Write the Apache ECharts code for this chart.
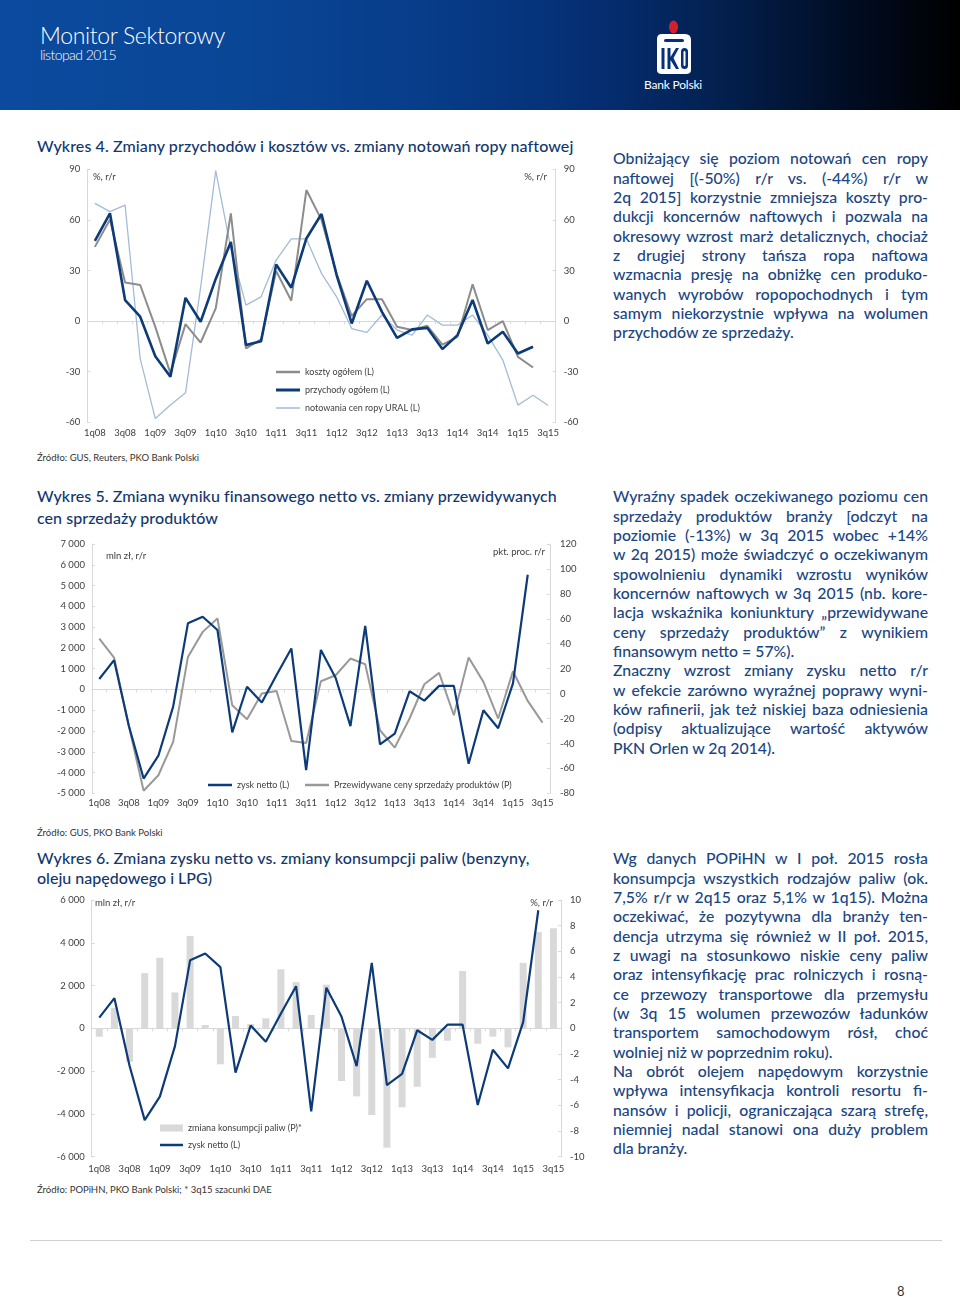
<!DOCTYPE html>
<html><head><meta charset="utf-8">
<script src="https://cdn.jsdelivr.net/npm/echarts@6/dist/echarts.min.js"></script>
<style>
html,body{margin:0;padding:0;background:#fff;}
body{width:960px;height:1297px;position:relative;overflow:hidden;font-family:Lato,"Open Sans",sans-serif;}
#hdr{position:absolute;left:0;top:0;width:960px;height:110px;background:linear-gradient(90deg,#0b4a9e 0%,#0a4696 25%,#073c89 45%,#052e72 62%,#03204f 75%,#010d24 88%,#000 100%);}
.t{position:absolute;white-space:nowrap;}
.ttl{color:#12376f;font-size:16px;line-height:20px;font-weight:500;}
.src{color:#333;font-size:9.5px;line-height:12px;}
.para{position:absolute;left:613px;width:315px;color:#1a4683;font-size:15.8px;font-weight:500;}
.ln{height:19.33px;line-height:19.33px;white-space:nowrap;}
.ln span{display:inline-block;white-space:nowrap;}
.ch{position:absolute;left:30px;width:570px;height:290px;}
</style></head><body>
<div id="hdr"></div>
<div class="t" id="h1" data-w="185" style="left:40px;top:21px;font-size:23px;line-height:28px;color:#fff;font-weight:300;">Monitor Sektorowy</div>
<div class="t" id="h2" data-w="76" style="left:40px;top:46px;font-size:14px;line-height:18px;color:#fff;font-weight:300;">listopad 2015</div>
<svg style="position:absolute;left:645px;top:15px;" width="60" height="80" viewBox="0 0 60 80">
 <ellipse cx="28.5" cy="12" rx="4.5" ry="6.5" fill="#d4202a"/>
 <path d="M12 24 Q12 19 17 19 L40 19 Q46 19 46 25 L46 55 Q46 59 41 59 L17 59 Q12 59 12 55 Z" fill="#fff"/>
 <rect x="19" y="24" width="20" height="3" rx="1.5" fill="#06317a"/>
 <rect x="16.5" y="33" width="3" height="21" fill="#06317a"/>
 <path d="M22.5 33 L25.5 33 L25.5 42 L31 33 L34 33 L28.5 43 L34 54 L31 54 L25.5 45 L25.5 54 L22.5 54 Z" fill="#06317a"/>
 <rect x="36" y="33" width="7" height="21" rx="3.5" fill="#06317a"/>
 <rect x="38.5" y="36" width="2" height="15" rx="1" fill="#fff"/>
</svg>
<div class="t" style="left:644px;top:78px;font-size:12px;line-height:14px;color:#fff;" id="bp" data-w="58">Bank Polski</div>

<div class="t ttl" data-w="536" style="left:37px;top:136px;">Wykres 4. Zmiany przychodów i kosztów vs. zmiany notowań ropy naftowej</div>
<div class="ch" id="c4" style="top:160px;"></div>
<div class="t src" style="left:37px;top:452px;">Źródło: GUS, Reuters, PKO Bank Polski</div>

<div class="t ttl" data-w="519" style="left:37px;top:486px;">Wykres 5. Zmiana wyniku finansowego netto vs. zmiany przewidywanych</div>
<div class="t ttl" data-w="181" style="left:37px;top:508px;">cen sprzedaży produktów</div>
<div class="ch" id="c5" style="top:530px;"></div>
<div class="t src" style="left:37px;top:827px;">Źródło: GUS, PKO Bank Polski</div>

<div class="t ttl" data-w="492" style="left:37px;top:848px;">Wykres 6. Zmiana zysku netto vs. zmiany konsumpcji paliw (benzyny,</div>
<div class="t ttl" data-w="175" style="left:37px;top:868px;">oleju napędowego i LPG)</div>
<div class="ch" id="c6" style="top:890px;"></div>
<div class="t src" style="left:37px;top:1184px;">Źródło: POPiHN, PKO Bank Polski; * 3q15 szacunki DAE</div>

<div class="para" style="top:148.3px;">
<div class="ln"><span>Obniżający się poziom notowań cen ropy</span></div>
<div class="ln"><span>naftowej [(-50%) r/r vs. (-44%) r/r w</span></div>
<div class="ln"><span>2q 2015] korzystnie zmniejsza koszty pro-</span></div>
<div class="ln"><span>dukcji koncernów naftowych i pozwala na</span></div>
<div class="ln"><span>okresowy wzrost marż detalicznych, chociaż</span></div>
<div class="ln"><span>z drugiej strony tańsza ropa naftowa</span></div>
<div class="ln"><span>wzmacnia presję na obniżkę cen produko-</span></div>
<div class="ln"><span>wanych wyrobów ropopochodnych i tym</span></div>
<div class="ln"><span>samym niekorzystnie wpływa na wolumen</span></div>
<div class="ln last"><span>przychodów ze sprzedaży.</span></div>
</div>

<div class="para" style="top:486.3px;">
<div class="ln"><span>Wyraźny spadek oczekiwanego poziomu cen</span></div>
<div class="ln"><span>sprzedaży produktów branży [odczyt na</span></div>
<div class="ln"><span>poziomie (-13%) w 3q 2015 wobec +14%</span></div>
<div class="ln"><span>w 2q 2015) może świadczyć o oczekiwanym</span></div>
<div class="ln"><span>spowolnieniu dynamiki wzrostu wyników</span></div>
<div class="ln"><span>koncernów naftowych w 3q 2015 (nb. kore-</span></div>
<div class="ln"><span>lacja wskaźnika koniunktury „przewidywane</span></div>
<div class="ln"><span>ceny sprzedaży produktów” z wynikiem</span></div>
<div class="ln last"><span>finansowym netto = 57%).</span></div>
<div class="ln"><span>Znaczny wzrost zmiany zysku netto r/r</span></div>
<div class="ln"><span>w efekcie zarówno wyraźnej poprawy wyni-</span></div>
<div class="ln"><span>ków rafinerii, jak też niskiej baza odniesienia</span></div>
<div class="ln"><span>(odpisy aktualizujące wartość aktywów</span></div>
<div class="ln last"><span>PKN Orlen w 2q 2014).</span></div>
</div>

<div class="para" style="top:848.3px;">
<div class="ln"><span>Wg danych POPiHN w I poł. 2015 rosła</span></div>
<div class="ln"><span>konsumpcja wszystkich rodzajów paliw (ok.</span></div>
<div class="ln"><span>7,5% r/r w 2q15 oraz 5,1% w 1q15). Można</span></div>
<div class="ln"><span>oczekiwać, że pozytywna dla branży ten-</span></div>
<div class="ln"><span>dencja utrzyma się również w II poł. 2015,</span></div>
<div class="ln"><span>z uwagi na stosunkowo niskie ceny paliw</span></div>
<div class="ln"><span>oraz intensyfikację prac rolniczych i rosną-</span></div>
<div class="ln"><span>ce przewozy transportowe dla przemysłu</span></div>
<div class="ln"><span>(w 3q 15 wolumen przewozów ładunków</span></div>
<div class="ln"><span>transportem samochodowym rósł, choć</span></div>
<div class="ln last"><span>wolniej niż w poprzednim roku).</span></div>
<div class="ln"><span>Na obrót olejem napędowym korzystnie</span></div>
<div class="ln"><span>wpływa intensyfikacja kontroli resortu fi-</span></div>
<div class="ln"><span>nansów i policji, ograniczająca szarą strefę,</span></div>
<div class="ln"><span>niemniej nadal stanowi ona duży problem</span></div>
<div class="ln last"><span>dla branży.</span></div>
</div>

<div style="position:absolute;left:30px;top:1240px;width:912px;height:1px;background:#cfcfcf;"></div>
<div class="t" style="left:897px;top:1283px;font-size:13px;line-height:16px;color:#333;">8</div>

<script>
// ---------- DATA ----------
const categories = ['1q08','2q08','3q08','4q08','1q09','2q09','3q09','4q09','1q10','2q10','3q10','4q10','1q11','2q11','3q11','4q11','1q12','2q12','3q12','4q12','1q13','2q13','3q13','4q13','1q14','2q14','3q14','4q14','1q15','2q15','3q15'];
// Wykres 4 (% r/r)
const kosztyOgolem = [44, 60.3, 22.9, 21.4, -3.4, -31, -1.8, -12.7, 7.5, 63.9, -16.2, -10.9, 29.7, 12.1, 77.7, 60, 28, 3, 13, 13, -3.4, -5.3, -2.8, -14, -9.3, 21.8, -5.3, 0, -21.2, -27.5];
const przychodyOgolem = [47.5, 63.9, 12.5, 2.6, -20.8, -33, 13.8, -0.4, 25, 46.9, -14.2, -11.9, 33.6, 19.8, 49, 63.5, 27.3, -1.4, 23.9, 5.5, -9.9, -4.9, -4, -16.6, -8.3, 12.5, -13.3, -6.3, -19.2, -15.2];
const notowaniaUral = [69.8, 64.9, 68.8, -22.2, -57.8, -49.8, -42.5, 20, 89.2, 43, 9.5, 14.4, 36.2, 48.7, 48.7, 28.3, 14.4, -4.4, -6.7, 3.6, -5.3, -8.3, 3.6, -2.4, -2.4, 3.6, -8.3, -23.1, -49.8, -44, -50];
// Wykres 5 / 6
const zyskNetto = [500, 1410, -1750, -4290, -3190, -830, 3180, 3500, 2860, -2070, 130, -630, 690, 1970, -3880, 1900, 550, -1770, 3060, -2650, -2130, -90, -540, 170, 170, -3580, -1000, -1870, 290, 5520];
const przewidywaneCeny = [44.1, 28.9, -26, -78, -65.5, -38.8, 29.4, 49.5, 60.2, -9.4, -20.6, 0, 2.1, -38, -39.6, 9.9, 14.7, 28.1, 23.5, -29.4, -43.3, -20, 7.5, 16.6, -17.4, 28.9, 9.4, -20, 17.9, -5.9, -23.3];
const konsumpcjaPaliw = [-0.65, 1.6, -2.6, 4.3, 5.5, 2.8, 7.2, 0.26, -2.8, 0.96, 0.34, 0.78, 4.6, 3.6, 1.04, 3.4, -4.1, -5.3, -6.75, -9.3, -6.15, -4.55, -2.3, -0.96, 4.47, -1.2, -0.65, -1.48, 5.1, 7.5, 7.8];

// ---------- TEXT FITTING ----------
document.querySelectorAll('[data-w]').forEach(el=>{
  const w=+el.dataset.w; el.style.letterSpacing='0px';
  const cur=el.getBoundingClientRect().width; const n=el.textContent.length;
  if(n>1) el.style.letterSpacing=((w-cur)/n)+'px';
});
document.querySelectorAll('.para .ln').forEach(l=>{
  if(l.classList.contains('last')) return;
  const s=l.querySelector('span');
  const cur=s.getBoundingClientRect().width;
  const sp=(s.textContent.match(/ /g)||[]).length;
  if(sp>0) s.style.wordSpacing=((315-cur)/sp)+'px';
});

// ---------- CHART HELPERS ----------
const FONT='Lato';
const lbl={color:'#404040',fontSize:9.5,fontFamily:FONT};
const axisGray='#d9d9d9';
function xAxes(margin){
  return [
    {type:'category',data:categories,boundaryGap:true,axisLine:{show:false,onZero:false},axisTick:{show:false},
     axisLabel:Object.assign({interval:1,margin:margin},lbl),splitLine:{show:false}},
    {type:'category',data:categories,boundaryGap:true,position:'bottom',
     axisLine:{show:true,onZero:true,onZeroAxisIndex:0,lineStyle:{color:axisGray,width:1}},
     axisTick:{show:true,interval:0,length:3,lineStyle:{color:axisGray}},axisLabel:{show:false},splitLine:{show:false}}
  ];
}
function yAx(pos,min,max,interval,fmt,margin){
  return {type:'value',position:pos,min:min,max:max,interval:interval,
    axisLine:{show:true,lineStyle:{color:axisGray,width:1}},
    axisTick:{show:true,inside:true,length:3,lineStyle:{color:axisGray}},
    splitLine:{show:false},
    axisLabel:Object.assign({margin:margin,formatter:fmt},lbl)};
}
function thousands(v){const s=Math.abs(v).toString().replace(/\B(?=(\d{3})+(?!\d))/g,' ');return (v<0?'-':'')+s;}
function leg(name,left,top,icon,w,h){
  return {data:[name],left:left,top:top,padding:0,icon:icon,itemWidth:w,itemHeight:h,itemGap:0,
    itemTextGap:3,selectedMode:false,textStyle:{color:'#404040',fontSize:9,fontFamily:FONT,lineHeight:12}};
}
function unitText(txt,pos){
  return Object.assign({type:'text',style:{text:txt,fill:'#404040',font:'9.5px Lato'}},pos);
}

// ---------- WYKRES 4 ----------
const c4=echarts.init(document.getElementById('c4'),null,{renderer:'canvas'});
c4.setOption({
  animation:false,
  grid:{left:57.3,top:9.3,width:468.4,height:253,containLabel:false},
  xAxis:xAxes(6),
  yAxis:[yAx('left',-60,90,30,null,7),yAx('right',-60,90,30,null,8)],
  legend:[
    leg('koszty ogółem (L)',246,206,'rect',24,2.5),
    leg('przychody ogółem (L)',246,224,'rect',24,3),
    leg('notowania cen ropy URAL (L)',246,242,'rect',24,1.5)
  ],
  graphic:[unitText('%, r/r',{left:63,top:12}),unitText('%, r/r',{right:53,top:12})],
  series:[
    {name:'notowania cen ropy URAL (L)',type:'line',data:notowaniaUral,symbol:'none',lineStyle:{color:'#a4bbd7',width:1.3},itemStyle:{color:'#a4bbd7'}},
    {name:'koszty ogółem (L)',type:'line',data:kosztyOgolem,symbol:'none',lineStyle:{color:'#8c8c8c',width:2},itemStyle:{color:'#8c8c8c'}},
    {name:'przychody ogółem (L)',type:'line',data:przychodyOgolem,symbol:'none',lineStyle:{color:'#0d3b78',width:2.6},itemStyle:{color:'#0d3b78'}}
  ]
});

// ---------- WYKRES 5 ----------
const c5=echarts.init(document.getElementById('c5'),null,{renderer:'canvas'});
c5.setOption({
  animation:false,
  grid:{left:61.9,top:14,width:458,height:249.3,containLabel:false},
  xAxis:xAxes(5),
  yAxis:[yAx('left',-5000,7000,1000,thousands,7),yAx('right',-80,120,20,null,10)],
  legend:[
    leg('zysk netto (L)',178,249,'rect',24,2.5),
    leg('Przewidywane ceny sprzedaży produktów (P)',275,249,'rect',24,2.5)
  ],
  graphic:[unitText('mln zł, r/r',{left:76,top:21}),unitText('pkt. proc. r/r',{right:55,top:17})],
  series:[
    {name:'Przewidywane ceny sprzedaży produktów (P)',type:'line',yAxisIndex:1,data:przewidywaneCeny,symbol:'none',lineStyle:{color:'#999999',width:2},itemStyle:{color:'#999999'}},
    {name:'zysk netto (L)',type:'line',yAxisIndex:0,data:zyskNetto,symbol:'none',lineStyle:{color:'#0d3b78',width:2.2},itemStyle:{color:'#0d3b78'}}
  ]
});

// ---------- WYKRES 6 ----------
const c6=echarts.init(document.getElementById('c6'),null,{renderer:'canvas'});
c6.setOption({
  animation:false,
  grid:{left:61.7,top:10,width:469.3,height:256.7,containLabel:false},
  xAxis:xAxes(7),
  yAxis:[yAx('left',-6000,6000,2000,thousands,7),yAx('right',-10,10,2,null,9)],
  legend:[
    leg('zmiana konsumpcji paliw (P)*',130,232,'rect',23,7),
    leg('zysk netto (L)',130,249,'rect',23,2.5)
  ],
  graphic:[unitText('mln zł, r/r',{left:65,top:8}),unitText('%, r/r',{right:47,top:8})],
  series:[
    {name:'zmiana konsumpcji paliw (P)*',type:'bar',yAxisIndex:1,data:konsumpcjaPaliw,barWidth:7,itemStyle:{color:'#d9d9d9'}},
    {name:'zysk netto (L)',type:'line',yAxisIndex:0,data:zyskNetto,symbol:'none',lineStyle:{color:'#0d3b78',width:2.2},itemStyle:{color:'#0d3b78'}}
  ]
});
</script>
</body></html>
